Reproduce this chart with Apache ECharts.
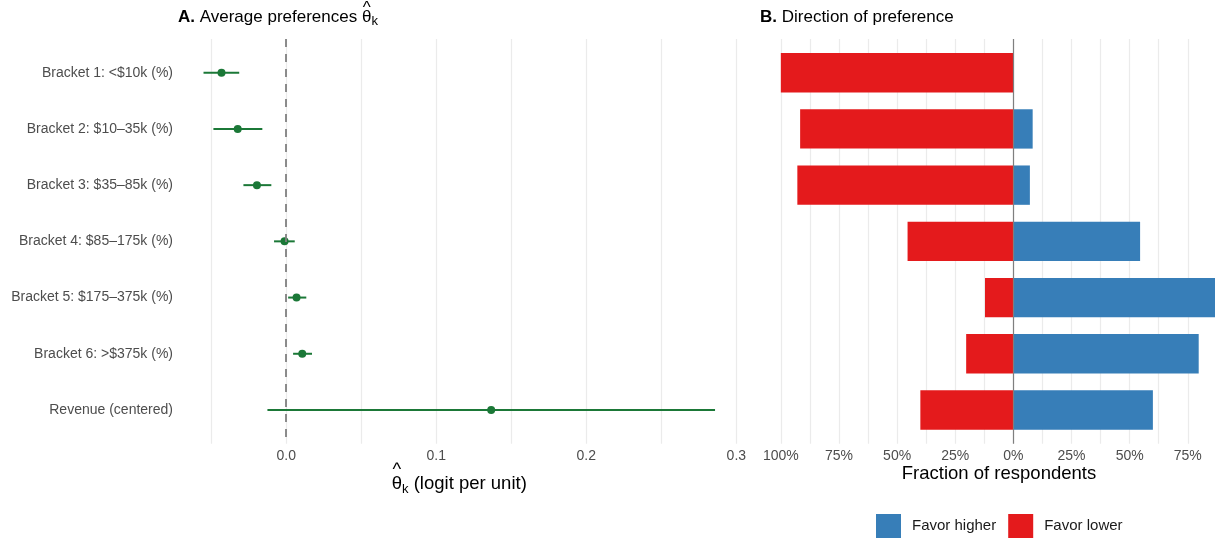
<!DOCTYPE html>
<html>
<head>
<meta charset="utf-8">
<script src="https://cdn.jsdelivr.net/npm/echarts@6/dist/echarts.min.js"></script>
<style>
  html, body { margin: 0; padding: 0; background: #ffffff; }
  #chart { width: 1215px; height: 542px; }
</style>
</head>
<body>
<div id="chart"></div>
<script>
// Rows shared by both panels (top to bottom)
const categories = [
  'Bracket 1: <$10k (%)',
  'Bracket 2: $10–35k (%)',
  'Bracket 3: $35–85k (%)',
  'Bracket 4: $85–175k (%)',
  'Bracket 5: $175–375k (%)',
  'Bracket 6: >$375k (%)',
  'Revenue (centered)'
];

// Panel A: average preference estimates with interval bounds
const estimate = [-0.0431, -0.0323, -0.0195, -0.0011, 0.0069, 0.0107, 0.1366];
const ciLow    = [-0.0551, -0.0485, -0.0285, -0.0081, 0.0013, 0.0046, -0.0125];
const ciHigh   = [-0.0313, -0.0159, -0.0099, 0.0057, 0.0134, 0.0172, 0.2858];

// Panel B: share of respondents favouring a higher / lower value
const favorHigher = [0.000, 0.083, 0.071, 0.545, 0.878, 0.797, 0.600];
const favorLower  = [1.000, 0.917, 0.929, 0.455, 0.122, 0.203, 0.400];

// Axis ticks and limits
const thetaLimits = [-0.0721, 0.3029];
const thetaLabelTicks = [0, 0.1, 0.2, 0.3];
const thetaGridTicks = [-0.05, 0, 0.05, 0.1, 0.15, 0.2, 0.25, 0.3];
const fracLimits = [-1.0939, 0.8671];
const fracLabelTicks = [-1, -0.75, -0.5, -0.25, 0, 0.25, 0.5, 0.75];
const fracGridTicks = [-1, -0.875, -0.75, -0.625, -0.5, -0.375, -0.25, -0.125, 0,
                       0.125, 0.25, 0.375, 0.5, 0.625, 0.75];
const rowLimits = [-0.6, categories.length - 0.4];

const FONT = '"Liberation Sans", Arial, Helvetica, sans-serif';
const GREEN = '#1B7837';
const BLUE = '#377EB8';
const RED = '#E41A1C';
const GRID_COLOR = '#EBEBEB';

const rowIdx = categories.map((_, i) => i);

// ---- text helpers for titles with a hatted theta and subscript ----
const measureCtx = document.createElement('canvas').getContext('2d');
function fontStr(size, weight) {
  return (weight || 'normal') + ' ' + size + 'px ' + FONT;
}
function textWidth(str, size, weight) {
  measureCtx.font = fontStr(size, weight);
  return measureCtx.measureText(str).width;
}
function textEl(str, x, y, size, weight, align) {
  return {
    type: 'text', x: x, y: y, silent: true,
    style: {
      text: str, font: fontStr(size, weight), fill: '#000',
      textAlign: align || 'left', textVerticalAlign: 'middle',
      align: align || 'left', verticalAlign: 'middle'
    }
  };
}
// fragments: {t, size, weight, dy, hat}
function richLine(frags, x0, midY, centered) {
  const widths = frags.map(f => textWidth(f.t, f.size, f.weight));
  const total = widths.reduce((a, b) => a + b, 0);
  let x = centered ? x0 - total / 2 : x0;
  const els = [];
  frags.forEach((f, i) => {
    els.push(textEl(f.t, x, midY + (f.dy || 0), f.size, f.weight));
    if (f.hat) {
      els.push(textEl('^', x + widths[i] / 2, midY + f.hat, f.size, 'normal', 'center'));
    }
    x += widths[i];
  });
  return els;
}

const graphics = [].concat(
  richLine([
    { t: 'A.', size: 17, weight: 'bold' },
    { t: ' Average preferences ', size: 17 },
    { t: 'θ', size: 17, hat: -8.8 },
    { t: 'k', size: 13, dy: 4.6 }
  ], 178, 17.2, false),
  richLine([
    { t: 'B.', size: 17, weight: 'bold' },
    { t: ' Direction of preference', size: 17 }
  ], 760, 17.2, false),
  richLine([
    { t: 'θ', size: 18.5, hat: -14.5 },
    { t: 'k', size: 13, dy: 5.5 },
    { t: ' (logit per unit)', size: 18.5 }
  ], 459.3, 484, true),
  richLine([
    { t: 'Fraction of respondents', size: 18.5 }
  ], 999, 474, true)
);

const chart = echarts.init(document.getElementById('chart'), null, { renderer: 'canvas' });

function hbarItem(params, api) {
  const v = api.value(0);
  const row = api.value(1);
  const start = api.coord([0, row]);
  const end = api.coord([v, row]);
  const h = api.size([0, 0.7])[1];
  return {
    type: 'rect',
    shape: {
      x: Math.min(start[0], end[0]),
      y: start[1] - h / 2,
      width: Math.abs(end[0] - start[0]),
      height: h
    },
    style: { fill: api.visual('color') }
  };
}

const option = {
  backgroundColor: '#ffffff',
  animation: false,
  graphic: graphics,
  legend: {
    data: ['Favor higher', 'Favor lower'],
    left: 876, top: 514, padding: 0,
    icon: 'rect',
    itemWidth: 25, itemHeight: 24, itemGap: 12,
    textStyle: { fontFamily: FONT, fontSize: 15, color: '#1A1A1A', padding: [0, 0, 0, 6] },
    selectedMode: false
  },
  grid: [
    { left: 178, top: 39, width: 562.7, height: 404.7 },
    { left: 759, top: 39, width: 456, height: 404.7 }
  ],
  xAxis: [
    {
      gridIndex: 0, type: 'value',
      min: thetaLimits[0], max: thetaLimits[1],
      axisLine: { show: false },
      axisTick: { show: false, customValues: thetaGridTicks },
      axisLabel: {
        customValues: thetaLabelTicks,
        formatter: v => v.toFixed(1),
        fontFamily: FONT, fontSize: 14, color: '#4D4D4D', margin: 5
      },
      splitLine: { show: true, lineStyle: { color: GRID_COLOR, width: 1.2 } }
    },
    {
      gridIndex: 1, type: 'value',
      min: fracLimits[0], max: fracLimits[1],
      axisLine: { show: false },
      axisTick: { show: false, customValues: fracGridTicks },
      axisLabel: {
        customValues: fracLabelTicks,
        formatter: v => Math.round(Math.abs(v) * 100) + '%',
        fontFamily: FONT, fontSize: 14, color: '#4D4D4D', margin: 5
      },
      splitLine: { show: true, lineStyle: { color: GRID_COLOR, width: 1.2 } }
    }
  ],
  yAxis: [
    {
      gridIndex: 0, type: 'value', inverse: true,
      min: rowLimits[0], max: rowLimits[1],
      axisLine: { show: false },
      axisTick: { show: false, customValues: rowIdx },
      splitLine: { show: false },
      axisLabel: {
        customValues: rowIdx,
        formatter: v => categories[Math.round(v)],
        fontFamily: FONT, fontSize: 14, color: '#4D4D4D', margin: 5
      }
    },
    {
      gridIndex: 1, type: 'value', inverse: true,
      min: rowLimits[0], max: rowLimits[1],
      axisLine: { show: false },
      axisTick: { show: false },
      splitLine: { show: false },
      axisLabel: { show: false }
    }
  ],
  series: [
    {
      // reference line at zero
      type: 'line', xAxisIndex: 0, yAxisIndex: 0, data: [], z: 1,
      markLine: {
        silent: true, symbol: 'none', label: { show: false },
        lineStyle: { color: '#808080', width: 1.8, type: [8, 7] },
        data: [{ xAxis: 0 }]
      }
    },
    {
      name: 'interval', type: 'custom', xAxisIndex: 0, yAxisIndex: 0, z: 2,
      data: rowIdx.map(i => [ciLow[i], ciHigh[i], i]),
      encode: { x: [0, 1], y: 2 },
      renderItem: (params, api) => {
        const a = api.coord([api.value(0), api.value(2)]);
        const b = api.coord([api.value(1), api.value(2)]);
        return {
          type: 'line',
          shape: { x1: a[0], y1: a[1], x2: b[0], y2: b[1] },
          style: { stroke: GREEN, lineWidth: 2 }
        };
      }
    },
    {
      name: 'estimate', type: 'scatter', xAxisIndex: 0, yAxisIndex: 0, z: 3,
      symbolSize: 8,
      itemStyle: { color: GREEN, opacity: 1 },
      data: rowIdx.map(i => [estimate[i], i])
    },
    {
      name: 'Favor higher', type: 'custom', xAxisIndex: 1, yAxisIndex: 1, z: 2,
      itemStyle: { color: BLUE },
      data: rowIdx.map(i => [favorHigher[i], i]),
      encode: { x: 0, y: 1 },
      renderItem: hbarItem
    },
    {
      name: 'Favor lower', type: 'custom', xAxisIndex: 1, yAxisIndex: 1, z: 2,
      itemStyle: { color: RED },
      data: rowIdx.map(i => [-favorLower[i], i]),
      encode: { x: 0, y: 1 },
      renderItem: hbarItem
    },
    {
      // zero line drawn above the bars
      type: 'line', xAxisIndex: 1, yAxisIndex: 1, data: [], z: 5,
      markLine: {
        silent: true, symbol: 'none', label: { show: false },
        lineStyle: { color: '#7F7F7F', width: 1.2, type: 'solid' },
        data: [{ xAxis: 0 }]
      }
    }
  ]
};

chart.setOption(option);
</script>
</body>
</html>
